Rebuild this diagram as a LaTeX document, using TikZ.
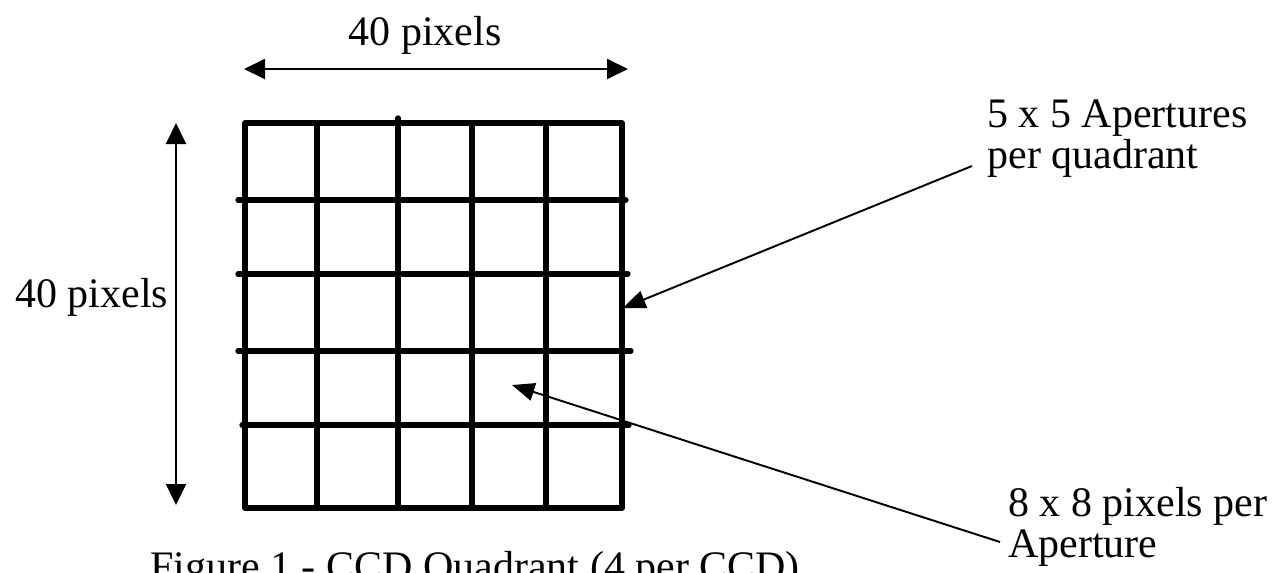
\documentclass[tikz,border=0pt]{standalone}
\usepackage{fontspec}
\setmainfont{Liberation Serif}
\usetikzlibrary{arrows.meta}
\begin{document}
\begin{tikzpicture}[x=0.02cm,y=-0.02cm,
    gridline/.style={line width=3pt,line cap=round,line join=round},
    dimarrow/.style={line width=1.1pt,{Triangle[length=0.42cm,width=0.4cm]}-{Triangle[length=0.42cm,width=0.4cm]}},
    pointer/.style={line width=1.1pt,-{Triangle[length=0.45cm,width=0.36cm]}},
    lbl/.style={inner sep=0pt,font=\fontsize{23.9pt}{23.3pt}\selectfont,align=left}]
    \useasboundingbox (0,0) rectangle (1283,572);
    % Quadrant outline
    \draw[gridline] (245,123) rectangle (622,508);
    % Aperture grid
    \foreach \x/\t in {317/123,398/118,472/123,546/123}
        \draw[gridline] (\x,\t) -- (\x,508);
    \foreach \y/\a/\b in {200/238/626,274/238/628,351/238/631,425/242/629}
        \draw[gridline] (\a,\y) -- (\b,\y);
    % Dimensions
    \coordinate (dimW1) at (244,69);
    \coordinate (dimW2) at (628,69);
    \coordinate (dimH1) at (176,123);
    \coordinate (dimH2) at (176,505);
    \draw[dimarrow] (dimW1) -- (dimW2);
    \draw[dimarrow] (dimH1) -- (dimH2);
    \node[lbl,anchor=base] (widthlbl) at (425,45) {40 pixels};
    \node[lbl,anchor=base west] (heightlbl) at (15,307) {40 pixels};
    % Callouts (base = last line)
    \node[lbl,anchor=base west] (aplbl) at (987,168) {5 x 5 Apertures\\per quadrant};
    \node[lbl,anchor=base west] (pixlbl) at (1008,557) {8 x 8 pixels per\\Aperture};
    \coordinate (apfrom) at (972,166);
    \coordinate (apto) at (623,308);
    \coordinate (pixfrom) at (1000,542);
    \coordinate (pixto) at (512,385);
    \draw[pointer] (apfrom) -- (apto);
    \draw[pointer] (pixfrom) -- (pixto);
    % Caption
    \node[lbl,anchor=base west] (caption) at (150,580) {Figure 1 - CCD Quadrant (4 per CCD)};
\end{tikzpicture}
\end{document}
